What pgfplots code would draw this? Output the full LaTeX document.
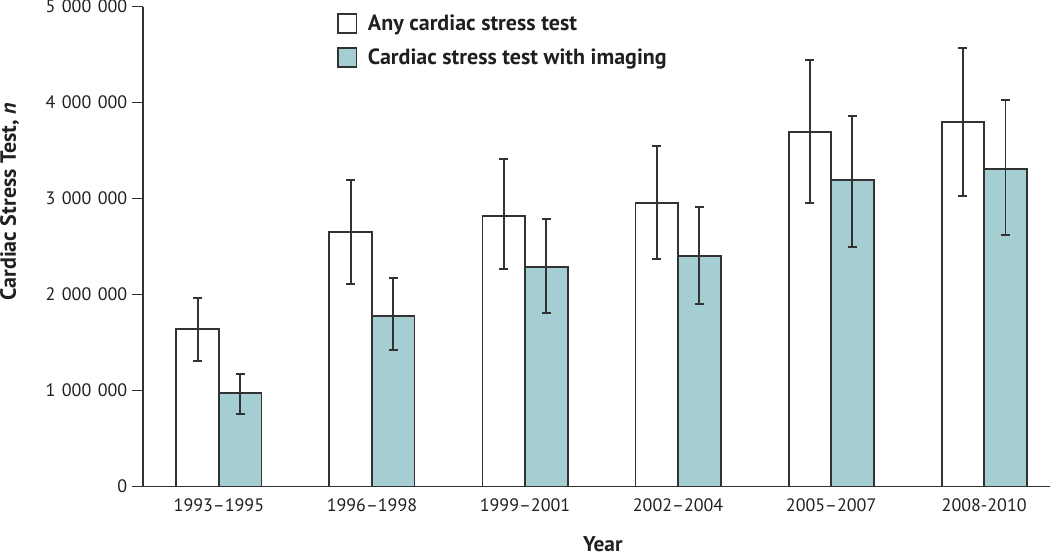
\documentclass[border=0pt]{standalone}
\usepackage{fontspec}
\setmainfont{PT Sans}
\usepackage{pgfplots}
\usepackage{pgfplotstable}
\pgfplotsset{compat=1.18}
\definecolor{tealfill}{RGB}{165,206,210}
\definecolor{edge}{RGB}{50,50,50}
\definecolor{txt}{RGB}{35,31,32}

\pgfplotstableread{
x y ep em
0 1638000 329000 331000
1 2651000 539000 542000
2 2818000 593000 552000
3 2953000 597000 580000
4 3696000 744000 740000
5 3794000 777000 768000
}\anytest
\pgfplotstableread{
x y ep em
0 977000 198000 219000
1 1779000 390000 360000
2 2290000 493000 483000
3 2401000 514000 500000
4 3190000 666000 695000
5 3304000 719000 687000
}\imgtest

\newcommand{\gsep}{\hspace{0.36em}}
\begin{document}
\begin{tikzpicture}
\useasboundingbox (-107.25pt,-52.125pt) rectangle (680.25pt,364.875pt);
\begin{axis}[
  at={(0pt,0pt)}, anchor=south west,
  scale only axis,
  width=680.25pt, height=360pt,
  xmin=-0.496, xmax=5.43,
  ymin=0, ymax=5000000,
  scaled y ticks=false,
  axis x line=bottom, axis y line=left,
  axis line style={-, line width=1.3pt, color=edge},
  xtick={0,1,2,3,4,5},
  xticklabels={1993--1995,1996--1998,1999--2001,2002--2004,2005--2007,2008-2010},
  xtick style={draw=none},
  ytick={0,1000000,2000000,3000000,4000000,5000000},
  yticklabels={0,1\gsep000\gsep000,2\gsep000\gsep000,3\gsep000\gsep000,4\gsep000\gsep000,5\gsep000\gsep000},
  tick align=outside,
  major tick length=8.25pt,
  ytick style={line width=1.3pt, color=edge},
  yticklabel style={font=\fontsize{13.5}{15}\selectfont, text=txt},
  xticklabel style={font=\fontsize{13.5}{15}\selectfont, text=txt, yshift=3pt},
  ylabel={\bfseries Cardiac Stress Test, \textit{n}},
  ylabel style={at={(axis description cs:-0.147,0.593)}, anchor=center, font=\fontsize{16.5}{18}\selectfont, text=txt},
  xlabel={\bfseries Year},
  xlabel style={at={(axis description cs:0.507,-0.121)}, anchor=center, inner sep=0pt, font=\fontsize{16}{18}\selectfont, text=txt},
  legend style={at={(axis description cs:0.209,0.994)}, anchor=north west, draw=none, fill=none,
    font=\bfseries\fontsize{16.5}{19}\selectfont, text=txt, row sep=8pt, cells={anchor=west}},
  clip=false,
]
\addplot[ybar, bar width=0.278, bar shift=0, fill=white, draw=edge, line width=1.4pt,
  legend image code/.code={\draw[fill=white, draw=edge, line width=1.3pt] (0pt,-7.1pt) rectangle (14.2pt,7.1pt); \path (20pt,0pt);},
  error bars/.cd, y dir=both, y explicit,
  error bar style={line width=1.4pt, color=edge},
  error mark options={rotate=90, mark size=3.4pt, line width=1.4pt, color=edge}]
  table[x expr=\thisrow{x}-0.139, y=y, y error plus=ep, y error minus=em]{\anytest};
\addlegendentry{Any cardiac stress test}
\addplot[ybar, bar width=0.278, bar shift=0, fill=tealfill, draw=edge, line width=1.4pt,
  legend image code/.code={\draw[fill=tealfill, draw=edge, line width=1.3pt] (0pt,-7.1pt) rectangle (14.2pt,7.1pt); \path (20pt,0pt);},
  error bars/.cd, y dir=both, y explicit,
  error bar style={line width=1.4pt, color=edge},
  error mark options={rotate=90, mark size=3.4pt, line width=1.4pt, color=edge}]
  table[x expr=\thisrow{x}+0.139, y=y, y error plus=ep, y error minus=em]{\imgtest};
\addlegendentry{Cardiac stress test with imaging}
\end{axis}
\end{tikzpicture}
\end{document}
